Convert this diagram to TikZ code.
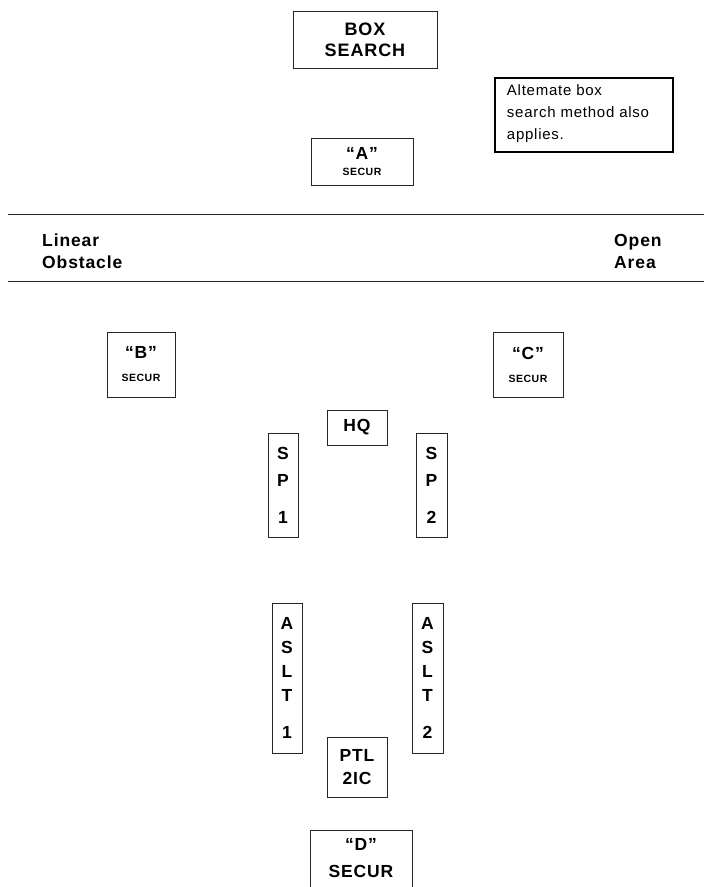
\documentclass[tikz,border=0pt]{standalone}
\usepackage{fontspec}
\setmainfont[LetterSpace=5]{Liberation Sans}
\usepackage{tikz}

\begin{document}
\begin{tikzpicture}[x=1pt,y=-1pt,
  unit/.style={draw=black!85,line width=0.8pt,inner sep=0pt,align=center,
    font=\bfseries\fontsize{17.5}{19}\selectfont},
  stack/.style={unit,font=\bfseries\fontsize{17.5}{24}\selectfont},
  label/.style={anchor=west,align=left,inner sep=0pt,font=\bfseries\fontsize{17.5}{22}\selectfont}]
\useasboundingbox (0,0) rectangle (704,887);
% top of the box search
\node[unit,minimum width=144pt,minimum height=57pt,font=\bfseries\fontsize{18}{21}\selectfont] (boxsearch) at (365,39.5) {BOX\\SEARCH};
\node[unit,minimum width=102pt,minimum height=47pt] (secA) at (362,161.5)
  {“A”\\[-3pt]{\fontsize{10.5}{11}\selectfont SECUR}};
\node[draw,line width=2.5pt,minimum width=178pt,minimum height=74pt,inner sep=0pt] (note) at (584,115) {};
\node[anchor=north west,align=left,inner sep=0pt,font=\fontsize{15}{22}\selectfont]
  (notetext) at ([xshift=13pt,yshift=-8pt]note.north west) {Altemate box\\search method also\\applies.};
% boundary lines
\draw[black!85,line width=0.8pt] (8,214) -- (704,214);
\draw[black!85,line width=0.8pt] (8,281) -- (704,281);
\node[label] (linear) at (42,251) {Linear\\Obstacle};
\node[label] (open) at (614,251) {Open\\Area};
% security elements
\node[unit,minimum width=68pt,minimum height=65pt] (secB) at (141,364.5)
  {“B”\\[4pt]{\fontsize{10.5}{11}\selectfont SECUR}};
\node[unit,minimum width=70pt,minimum height=65pt] (secC) at (528,364.5)
  {“C”\\[4pt]{\fontsize{10.5}{11}\selectfont SECUR}};
% patrol
\node[unit,minimum width=60pt,minimum height=35pt] (hq) at (357,427.5) {HQ};
\node[stack,minimum width=30pt,minimum height=104pt,font=\bfseries\fontsize{17.5}{27}\selectfont] (sp1) at (283,485) {S\\P\\[10pt]1};
\node[stack,minimum width=31pt,minimum height=104pt,font=\bfseries\fontsize{17.5}{27}\selectfont] (sp2) at (431.5,485) {S\\P\\[10pt]2};
\node[stack,minimum width=30pt,minimum height=150pt] (aslt1) at (287,678) {A\\S\\L\\T\\[13pt]1};
\node[stack,minimum width=31pt,minimum height=150pt] (aslt2) at (427.5,678) {A\\S\\L\\T\\[13pt]2};
\node[unit,minimum width=60pt,minimum height=60pt,font=\bfseries\fontsize{17.5}{23}\selectfont] (ptl) at (357,767) {PTL\\2IC};
\node[unit,minimum width=102pt,minimum height=57pt,font=\bfseries\fontsize{17.5}{27}\selectfont] (secD) at (361,858.5) {“D”\\SECUR};
\end{tikzpicture}
\end{document}
